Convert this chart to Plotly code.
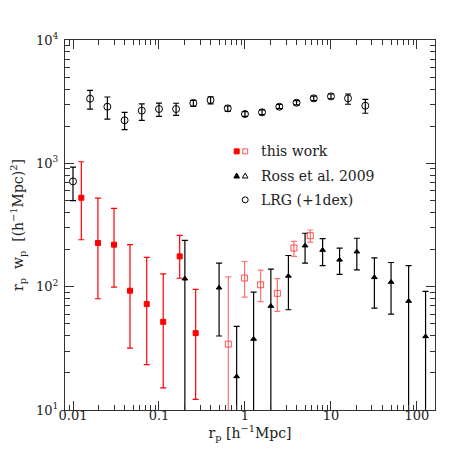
import plotly.graph_objects as go

# this work: filled squares
work_x = [0.0125, 0.0195, 0.030, 0.046, 0.072, 0.112, 0.174, 0.267]
work_y = [526, 226, 219, 92.7, 72.3, 51.9, 176, 42]
work_hi = [1030, 523, 432, 219, 173, 127, 261, 95.1]
work_lo = [240, 79.8, 99.3, 31.8, 23.3, 15.1, 117, 12.2]

# this work: open squares
work2_x = [0.64, 0.99, 1.52, 2.38, 3.71, 5.75]
work2_y = [34.2, 117.5, 103.6, 88.3, 205.6, 259]
work2_hi = [120, 160, 136, 116, 233, 288]
work2_lo = [0, 82.4, 75.5, 63, 176, 230]

# Ross et al. 2009
ross_x = [0.2, 0.5, 0.8, 1.26, 2.0, 3.2, 5.0, 8.0, 12.6, 20, 32, 50, 80, 126]
ross_y = [116, 98, 18.7, 37.6, 69.6, 122, 215, 198, 165, 192, 119, 109, 76.4, 39.5]
ross_hi = [237, 155, 47.6, 90.4, 139, 179, 271, 245, 205, 247, 171, 157, 148, 91.6]
ross_lo = [0, 39.8, 0, 0, 0, 65, 155, 148, 126, 137, 67, 60, 0, 0]

# LRG (+1dex)
lrg_x = [0.01, 0.0158, 0.0251, 0.0398, 0.0631, 0.1, 0.158, 0.251, 0.398,
         0.631, 1.0, 1.58, 2.51, 3.98, 6.31, 10.0, 15.8, 25.1]
lrg_y = [714, 3342, 2877, 2233, 2673, 2756, 2756, 3083, 3260,
         2792, 2512, 2593, 2877, 3100, 3365, 3491, 3365, 2931]
lrg_hi = [933, 3908, 3451, 2593, 3039, 3083, 3069, 3243, 3467,
          2917, 2630, 2710, 3000, 3230, 3510, 3650, 3648, 3304]
lrg_lo = [498, 2754, 2285, 1875, 2233, 2404, 2449, 2897, 3039,
          2642, 2400, 2480, 2780, 2980, 3230, 3340, 3013, 2547]

ytick_vals = [10, 100, 1000, 10000]
ytick_text = ["10<sup>1</sup>", "10<sup>2</sup>", "10<sup>3</sup>", "10<sup>4</sup>"]
legend_labels = ["this work", "Ross et al. 2009", "LRG (+1dex)"]

FONT = "DejaVu Serif"
TXT = "#222222"


def errs(y, hi, lo):
    plus = [h - v for v, h in zip(y, hi)]
    minus = [v - l for v, l in zip(y, lo)]
    return plus, minus


def trace(x, y, hi, lo, color, symbol, size, barcolor, fill=None):
    plus, minus = errs(y, hi, lo)
    return go.Scatter(
        x=x, y=y, mode="markers",
        marker=dict(symbol=symbol, size=size, color=fill or color,
                    line=dict(color=color, width=1)),
        error_y=dict(type="data", symmetric=False, array=plus, arrayminus=minus,
                     color=barcolor, thickness=1.2, width=3),
        showlegend=False)


fig = go.Figure()
fig.add_trace(trace(lrg_x, lrg_y, lrg_hi, lrg_lo, "black", "circle-open", 7, "black"))
fig.add_trace(trace(ross_x, ross_y, ross_hi, ross_lo, "black", "triangle-up", 5, "black"))
fig.add_trace(trace(work2_x, work2_y, work2_hi, work2_lo, "rgba(255,40,40,0.8)",
                    "square-open", 6, "rgba(255,40,40,0.65)"))
fig.add_trace(trace(work_x, work_y, work_hi, work_lo, "red", "square", 5, "red"))

# legend drawn by hand (two symbols per entry)
shapes = []
def sq(xa, ya, filled, color):
    shapes.append(dict(type="rect", xref="paper", yref="paper", xsizemode="pixel",
                       ysizemode="pixel", xanchor=xa, yanchor=ya,
                       x0=-2.5, x1=2.5, y0=-2.5, y1=2.5,
                       line=dict(color=color, width=1),
                       fillcolor=color if filled else "rgba(0,0,0,0)"))

def tri(xa, ya, filled):
    shapes.append(dict(type="path", xref="paper", yref="paper", xsizemode="pixel",
                       ysizemode="pixel", xanchor=xa, yanchor=ya,
                       path="M -2.8 -2.2 L 2.8 -2.2 L 0 2.8 Z",
                       line=dict(color="black", width=1),
                       fillcolor="black" if filled else "rgba(0,0,0,0)"))

sq(0.464, 0.699, True, "red")
sq(0.487, 0.699, False, "rgba(255,40,40,0.8)")
tri(0.464, 0.633, True)
tri(0.487, 0.633, False)
shapes.append(dict(type="circle", xref="paper", yref="paper", xsizemode="pixel",
                   ysizemode="pixel", xanchor=0.487, yanchor=0.568,
                   x0=-3, x1=3, y0=-3, y1=3, line=dict(color="black", width=1)))

annotations = []
for lab, yy in zip(legend_labels, [0.699, 0.633, 0.568]):
    annotations.append(dict(text=lab, xref="paper", yref="paper", x=0.524, y=yy,
                            xanchor="left", yanchor="middle", showarrow=False,
                            font=dict(family=FONT, size=14, color=TXT)))

axis_common = dict(type="log", showgrid=False, zeroline=False, showline=True,
                   linecolor="#333333", linewidth=1.3, mirror="allticks",
                   ticks="inside", ticklen=9, tickcolor="#333333", tickwidth=1,
                   minor=dict(ticks="inside", ticklen=5, dtick="D1",
                              tickcolor="#333333", tickwidth=1, showgrid=False),
                   tickfont=dict(family=FONT, size=13, color=TXT), automargin=False)

fig.update_xaxes(**axis_common, range=[-2.093, 2.21], dtick=1, ticklabelstandoff=-7,
                 title=dict(text="r<sub>p</sub> [h<sup>−1</sup>Mpc]",
                            font=dict(family=FONT, size=14, color=TXT),
                            standoff=4))
fig.update_yaxes(**axis_common, range=[1, 4], tickvals=ytick_vals, ticktext=ytick_text,
                 ticklabelstandoff=3,
                 title=dict(text="r<sub>p</sub>  w<sub>p</sub>  [(h<sup>−1</sup>Mpc)<sup>2</sup>]",
                            font=dict(family=FONT, size=14, color=TXT),
                            standoff=15))

fig.update_layout(width=458, height=458, margin=dict(l=57, r=31, t=32, b=56),
                  plot_bgcolor="white", paper_bgcolor="white",
                  shapes=shapes, annotations=annotations,
                  font=dict(family=FONT, color=TXT))
fig.write_html("out.html")
